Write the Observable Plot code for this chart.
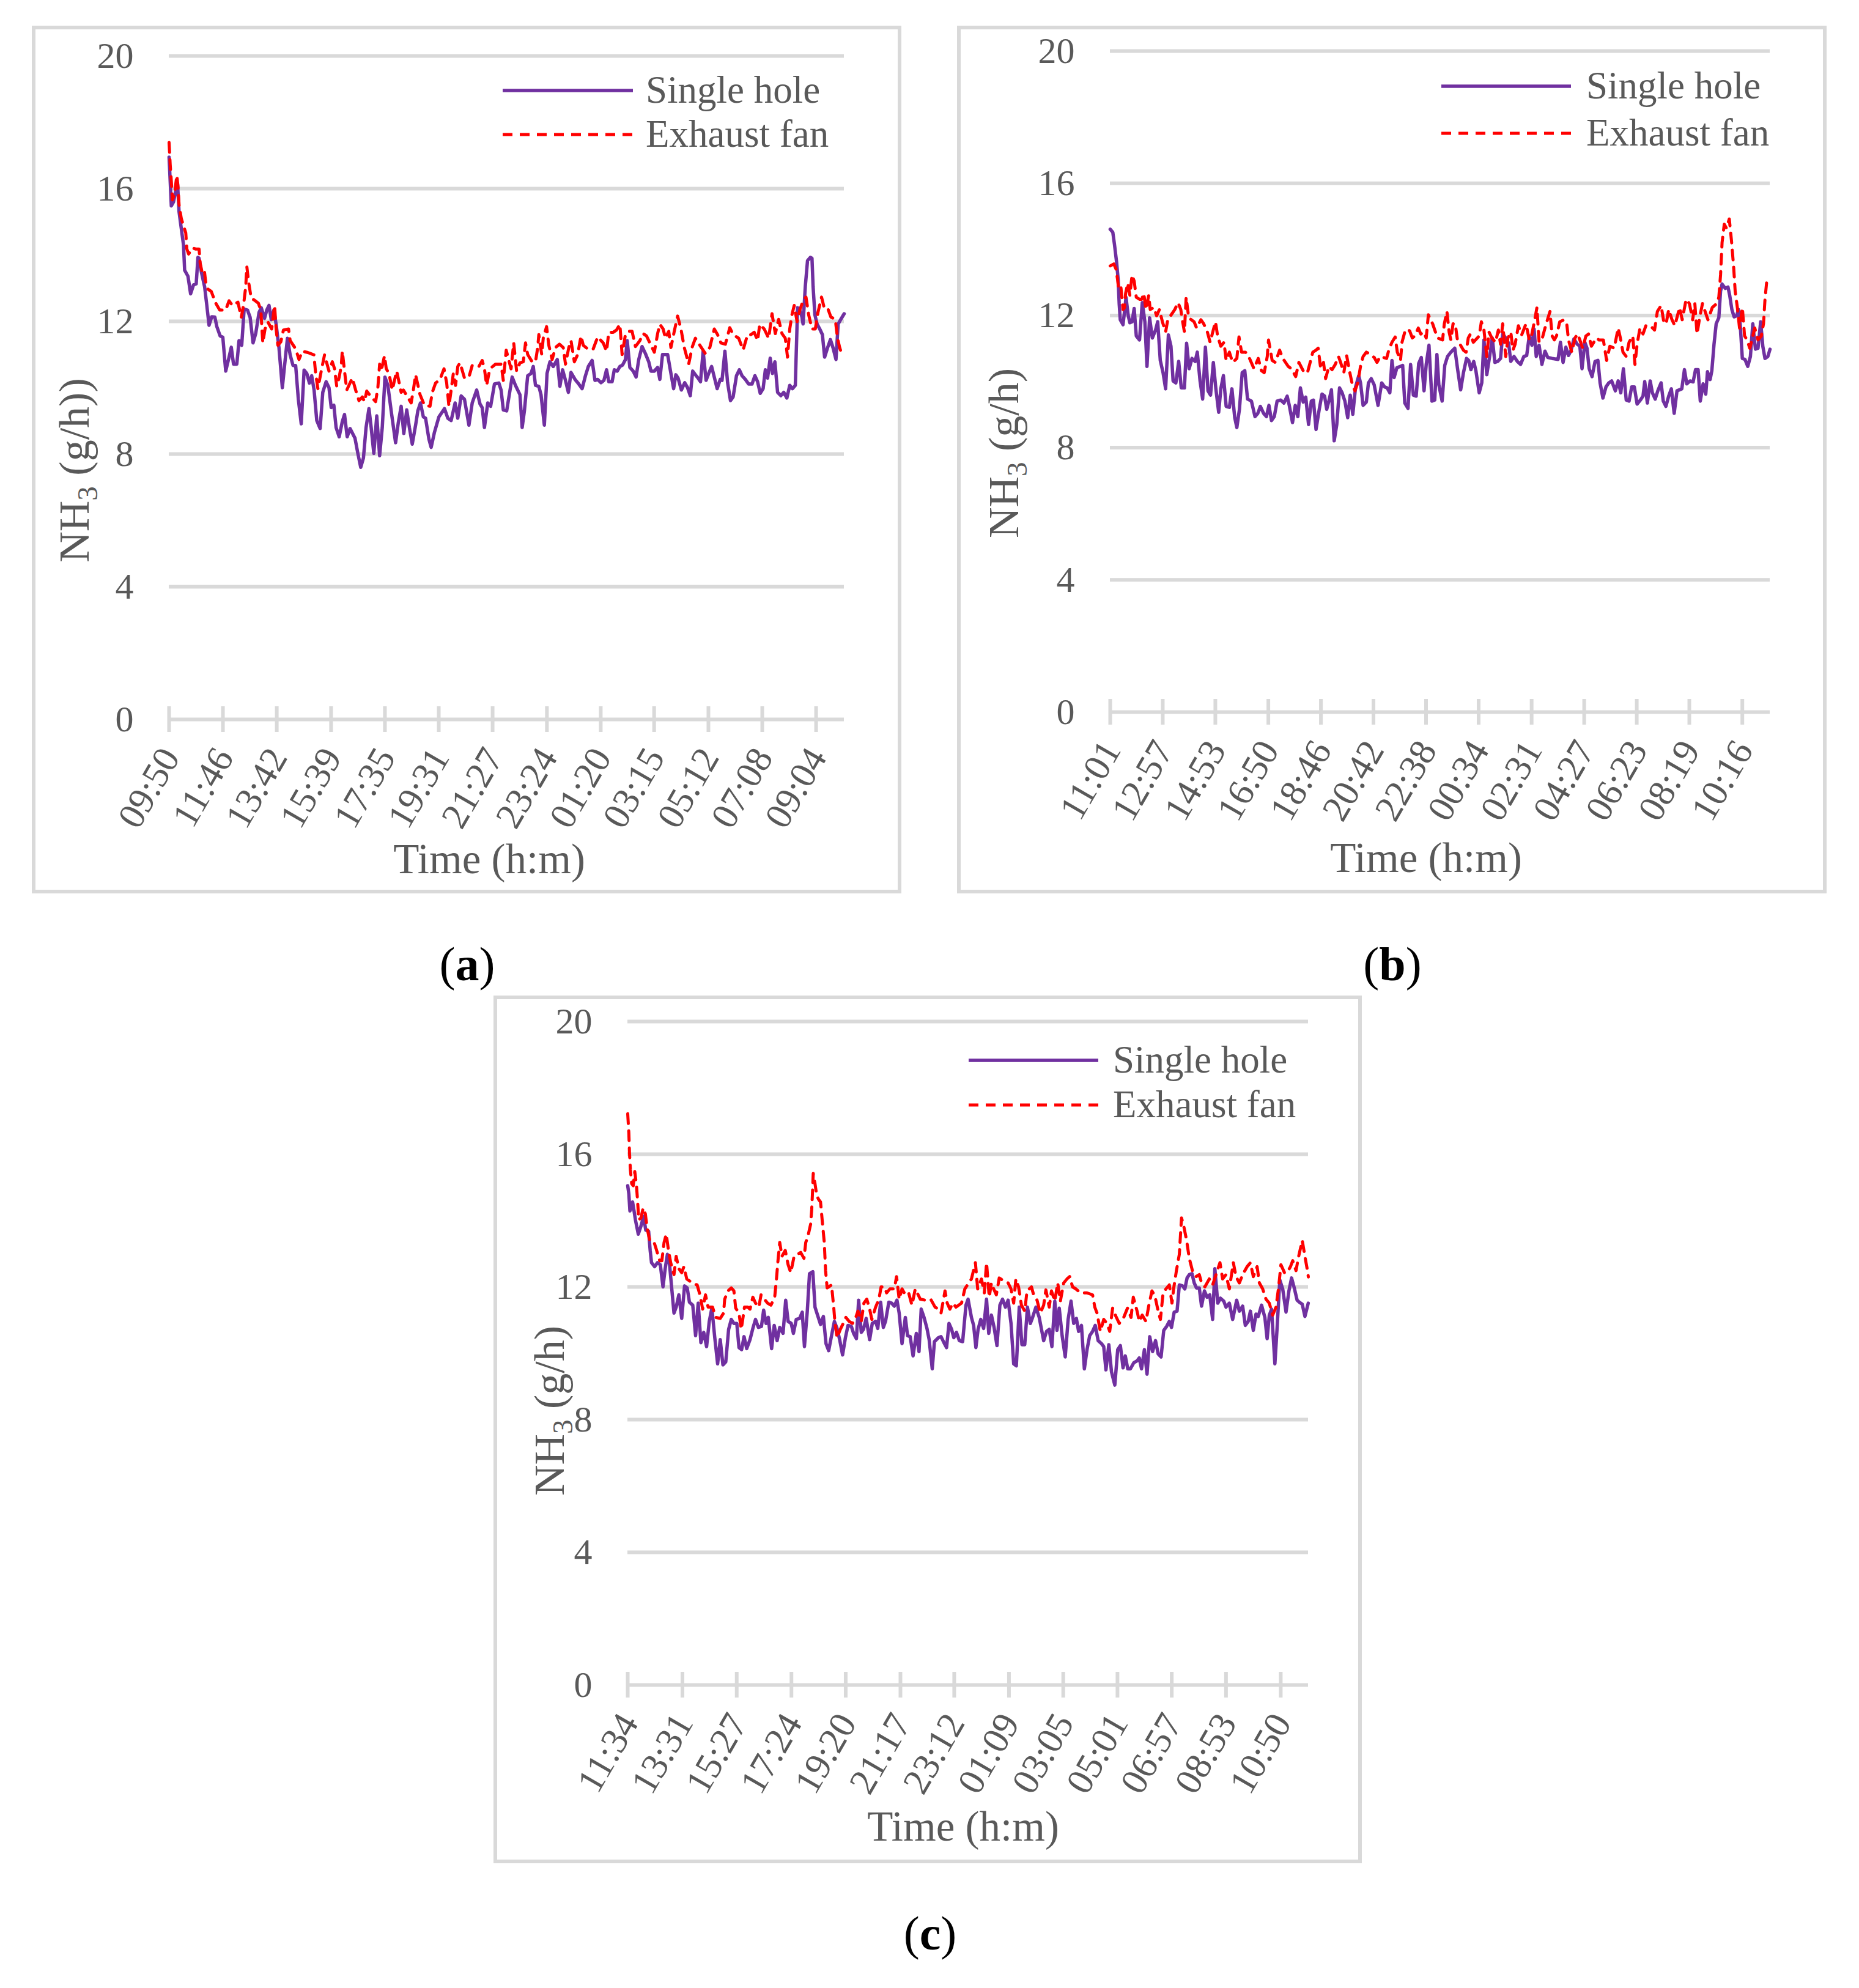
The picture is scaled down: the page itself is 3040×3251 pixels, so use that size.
<!DOCTYPE html>
<html><head><meta charset="utf-8">
<script src="https://cdn.jsdelivr.net/npm/d3@7"></script>
<script src="https://cdn.jsdelivr.net/npm/@observablehq/plot@0.6"></script>
<style>
html,body{margin:0;padding:0;background:#fff;}
#page{position:relative;width:3040px;height:3251px;background:#fff;font-family:"Liberation Serif",serif;overflow:hidden;}
.panel{position:absolute;}
.panel .border{position:absolute;left:0;top:0;right:0;bottom:0;border:6px solid #d9d9d9;box-sizing:border-box;}
#overlay{position:absolute;left:0;top:0;pointer-events:none;}
</style></head><body><div id="page"></div>
<script>
// ---------- data (minutes since first tick, NH3 g/h) ----------
const yTicks = [0, 4, 8, 12, 16, 20];
const aLabels = ["09:50","11:46","13:42","15:39","17:35","19:31","21:27","23:24","01:20","03:15","05:12","07:08","09:04"];
const bLabels = ["11:01","12:57","14:53","16:50","18:46","20:42","22:38","00:34","02:31","04:27","06:23","08:19","10:16"];
const cLabels = ["11:34","13:31","15:27","17:24","19:20","21:17","23:12","01:09","03:05","05:01","06:57","08:53","10:50"];
const seriesNames = ["Single hole", "Exhaust fan"];

const aSingle = [[0,16.95],[4.8,15.48],[9.6,15.6],[13.4,15.87],[18.2,16.16],[21.5,15.3],[26.3,14.8],[31.1,14.3],[33.5,13.54],[40.7,13.36],[46.4,12.83],[52.6,13.1],[58.4,13.13],[62.2,13.93],[64.6,13.9],[69.4,13.5],[76.6,13.04],[81.3,12.48],[86.1,11.88],[91.9,12.14],[98.6,12.13],[102.9,11.84],[110,11.56],[115.8,11.52],[122,10.5],[129.2,10.92],[134,11.22],[138.8,10.71],[145.9,10.71],[150.7,11.42],[156.5,11.28],[161.7,12.37],[168.9,12.34],[174.6,12.12],[180.9,11.35],[186.6,11.63],[193.8,12.27],[198.6,12.41],[205.7,12.09],[210.5,12.34],[215.3,12.48],[220.1,12.05],[225.8,12.34],[230.6,11.91],[236.8,11.2],[244,10.0],[251.2,10.99],[255,11.49],[260.8,10.99],[267,10.67],[272.7,10.67],[278.5,9.65],[284.7,8.91],[290.9,10.53],[296.7,10.43],[302.4,10.14],[307.2,10.36],[312.4,9.93],[318.2,9.01],[325.4,8.77],[331.1,9.86],[338.3,10.18],[344.5,10.0],[349.3,9.4],[355,9.47],[359.8,8.8],[366.5,8.52],[373.2,8.98],[378,9.19],[383.7,8.52],[389.9,8.77],[400.5,8.48],[406.7,8.02],[412.9,7.6],[418.7,7.88],[424.4,8.8],[430.6,9.37],[435.4,8.8],[441.1,8.02],[447.4,9.15],[453.6,7.95],[459.3,8.8],[465.1,10.32],[471.3,10.07],[478.5,9.3],[488,8.34],[493.8,8.94],[500,9.44],[505.7,8.62],[512,9.33],[517.7,8.8],[523.9,8.3],[531.1,8.87],[535.9,9.3],[541.6,9.54],[547.8,9.12],[552.6,9.08],[559.8,8.45],[564.6,8.2],[571.8,8.66],[581.3,9.12],[593.3,9.37],[600.5,9.08],[607.7,9.01],[616.3,9.54],[622,9.08],[629.2,9.75],[636.4,9.65],[646,8.87],[653.1,9.54],[662.7,9.93],[669.9,9.51],[674.6,9.4],[679.4,8.8],[686.6,9.54],[692.8,9.44],[701,10.11],[710.5,10.14],[715.3,9.93],[720.1,9.33],[727.3,9.3],[739.1,10.32],[746.3,10.07],[753.5,9.86],[755.9,9.79],[760.7,8.8],[765.5,9.3],[772.6,10.36],[779.8,10.43],[784.6,10.64],[789.4,10.07],[796.6,10.04],[801.3,9.79],[808.5,8.87],[814.3,10.43],[820.5,10.78],[827.7,10.64],[836.3,10.85],[842,10.04],[847.8,10.54],[854,10.22],[860.2,9.86],[865.9,10.46],[874.6,10.25],[882.7,10.11],[889.9,9.97],[897,10.36],[903.3,10.64],[911.4,10.82],[917.6,10.22],[923.4,10.25],[930.5,10.15],[936.8,10.22],[942.5,10.54],[947.3,10.18],[954.5,10.18],[959.2,10.54],[965.5,10.5],[971.2,10.64],[977,10.68],[983.2,10.85],[987,11.42],[992.7,10.61],[999.9,10.5],[1006.1,10.32],[1011.9,10.85],[1019,11.24],[1026.2,11.03],[1033.4,10.78],[1038.2,10.5],[1045.4,10.5],[1052.5,10.61],[1057.3,10.25],[1063.1,11.0],[1074.1,11.0],[1080.3,10.5],[1087,9.97],[1091.8,10.39],[1096.6,10.29],[1103.7,9.93],[1110.9,10.15],[1117.1,10.0],[1122.9,9.76],[1128.1,10.5],[1133.9,10.39],[1139.6,10.29],[1144.9,10.18],[1150.6,11.1],[1156.9,10.22],[1162.6,10.43],[1168.8,10.64],[1174.6,10.32],[1180.8,9.97],[1187.5,10.25],[1191.3,10.22],[1197.5,11.1],[1203.3,10.15],[1209.5,9.61],[1215.2,9.72],[1222.4,10.36],[1228.6,10.54],[1234.4,10.36],[1241.5,10.25],[1248.7,10.11],[1255.9,10.11],[1262.1,10.36],[1267.9,10.18],[1273.6,9.83],[1279.8,9.97],[1284.6,10.54],[1289.4,10.29],[1295.1,10.89],[1299.9,10.43],[1305.2,10.78],[1311,9.86],[1318.1,9.76],[1324.3,9.86],[1331,9.69],[1337.2,10.07],[1343,9.97],[1349.2,10.07],[1354,12.41],[1358.8,12.34],[1363.5,12.13],[1365.9,11.92],[1370.7,13.05],[1375.5,13.83],[1381.7,13.93],[1385.1,13.9],[1387.5,13.05],[1391.3,12.2],[1396.1,11.92],[1401.8,11.77],[1407.6,11.6],[1412.3,10.92],[1418.6,11.2],[1424.8,11.45],[1430.5,11.2],[1436.8,10.85],[1441.5,11.92],[1447.3,12.06],[1454.5,12.23]];

const aFan = [[0,17.39],[2.4,16.72],[4.8,16.23],[7.2,15.66],[12,15.87],[16.7,16.4],[19.1,16.08],[21.5,15.52],[26.3,15.1],[31.1,14.88],[35.9,14.67],[38.3,14.18],[42.1,14.03],[50.2,14.21],[57.4,14.18],[64.6,14.18],[67,13.75],[70.8,13.5],[75.6,13.57],[78.9,13.19],[83.7,12.97],[90.9,12.9],[100.5,12.55],[109.1,12.34],[122,12.34],[129.2,12.62],[136.4,12.48],[148.3,12.58],[155.5,12.12],[160.3,12.48],[165.1,13.04],[167.5,13.65],[171.3,13.19],[177,12.69],[182.8,12.65],[192.3,12.55],[197.6,12.34],[201.9,11.35],[206.7,11.77],[212.9,11.98],[221.1,11.77],[227.3,12.48],[230.6,11.77],[234.4,11.28],[240.7,11.38],[246.4,11.74],[257.4,11.77],[260.8,11.42],[272.7,11.17],[279.9,10.85],[287.1,11.1],[299,11.06],[312,10.99],[315.8,10.43],[320.6,9.97],[327.8,10.5],[334.9,10.99],[344.5,10.5],[351.7,10.78],[356.5,10.57],[361.2,10.04],[366,10.29],[370.8,10.64],[373.2,11.1],[378,10.5],[382.8,9.93],[394.7,10.29],[401.9,9.93],[409.1,9.61],[416.3,9.72],[421.1,9.58],[425.8,9.9],[435.4,9.72],[445,9.58],[449.8,10.0],[453.6,10.71],[456.9,10.5],[464.1,10.96],[467.9,10.57],[473.7,10.43],[480.9,9.93],[485.6,10.22],[490.4,10.5],[500,9.86],[504.8,9.93],[521.5,9.54],[526.3,9.93],[531.1,10.39],[540.7,9.79],[550.2,9.47],[562.2,9.44],[567,9.86],[574.2,10.14],[583.7,10.25],[592.3,10.57],[598.1,10.14],[602.9,9.44],[607.7,9.93],[612.4,10.43],[617.2,10.07],[622,10.64],[626.8,10.75],[636.4,10.29],[646,10.32],[653.1,10.67],[660.3,10.64],[667.5,10.64],[674.6,10.82],[679.4,10.57],[684.2,10.07],[689,10.43],[693.8,10.6],[703.3,10.71],[715.3,10.71],[720.1,10.22],[726.3,11.13],[736.8,10.57],[742.5,11.35],[748.7,10.5],[755.9,10.75],[763.1,10.78],[767.9,11.35],[772.6,11.0],[782.2,10.78],[789.4,10.78],[794.2,11.21],[796.6,11.6],[802.8,11.0],[806.1,11.49],[813.3,11.84],[818.1,11.28],[825.3,10.85],[832.4,11.21],[841,11.31],[849.2,11.21],[854,10.71],[861.2,11.21],[865.9,11.42],[873.1,10.78],[880.3,11.0],[887.5,11.56],[892.3,11.28],[904.2,11.14],[913.8,11.17],[923.4,11.53],[935.3,11.35],[942.5,11.1],[947.3,11.67],[956.9,11.67],[964.1,11.74],[971.2,11.91],[976,11.0],[983.2,11.6],[990.3,11.7],[997.5,11.7],[1004.7,11.24],[1014.3,11.42],[1021.4,11.63],[1028.6,11.56],[1035.8,11.35],[1045.4,11.07],[1052.5,11.63],[1057.3,11.91],[1064.5,11.77],[1069.3,11.49],[1076.5,11.7],[1081.2,11.21],[1088.4,11.7],[1095.6,12.16],[1102.8,11.77],[1110,11.21],[1119.5,10.71],[1126.7,11.21],[1133.9,11.49],[1143.5,11.28],[1155.4,11.03],[1165,11.21],[1174.6,11.77],[1181.7,11.6],[1188.9,11.35],[1198.5,11.31],[1208,11.81],[1215.2,11.6],[1227.2,11.49],[1236.8,11.14],[1246.3,11.6],[1253.5,11.6],[1260.7,11.67],[1267.9,11.42],[1272.6,11.91],[1282.2,11.77],[1291.8,11.49],[1299,12.23],[1306.1,11.63],[1313.3,12.06],[1320.5,11.63],[1327.6,11.49],[1332.4,10.92],[1337.2,11.77],[1342,12.2],[1346.8,12.48],[1353,11.99],[1358.8,12.34],[1365.9,12.62],[1372.2,12.73],[1377.9,12.2],[1385.1,11.77],[1392.3,11.77],[1398,12.27],[1405.7,12.73],[1411.4,12.41],[1418.6,12.41],[1425.8,12.13],[1435.3,12.06],[1440.1,11.49],[1444.9,11.2],[1449.7,11.0],[1454,10.95]];

const bSingle = [[0,14.61],[5.7,14.52],[9.4,14.15],[14.2,13.6],[17.5,13.1],[19.8,12.36],[22.2,11.87],[28.3,11.72],[31.6,12.12],[34.9,12.55],[39.7,12.0],[43.4,11.78],[48.2,11.81],[52.9,12.21],[57.6,11.38],[64.7,11.26],[70.8,12.39],[76.5,11.81],[81.2,10.46],[86.9,11.93],[93,11.32],[100.1,11.56],[104.8,11.81],[110.5,10.64],[116.6,10.27],[122.3,9.78],[128.4,11.41],[134.1,11.07],[138.8,10.02],[144.9,9.96],[151.1,10.61],[156.8,9.81],[163.8,9.81],[168.6,11.16],[174.2,10.39],[180.4,10.7],[187.4,10.61],[192.2,10.89],[198.3,10.02],[204,9.47],[210.1,11.04],[215.8,9.72],[221.4,9.59],[227.6,10.58],[233.2,9.78],[239.4,9.07],[244.1,9.78],[249.8,10.18],[255.9,9.25],[263,9.22],[268.6,9.78],[274.8,8.91],[279.5,8.61],[285.2,9.16],[291.3,10.27],[297,10.33],[303.1,9.47],[311.6,9.41],[319.6,8.94],[325.8,9.04],[331.4,9.25],[338.5,9.04],[344.7,8.94],[350.3,9.28],[356,8.82],[362.1,8.94],[368.3,9.41],[376.3,9.44],[383.4,9.35],[390.5,9.56],[395.2,9.28],[402.3,8.76],[408.4,9.28],[414.1,8.94],[419.7,9.81],[425.9,9.38],[431.5,9.53],[437.7,8.7],[443.8,9.41],[448.5,9.44],[454.2,8.55],[461.3,9.16],[467.4,9.62],[473.1,9.56],[477.8,9.16],[482.5,9.41],[488.2,9.75],[494.3,8.21],[500,8.7],[506.1,9.81],[511.8,9.66],[517.9,9.41],[524.1,8.91],[529.7,9.59],[535.4,9.01],[541.5,9.84],[548.6,10.18],[552.4,9.96],[558.1,9.28],[565.2,9.38],[569.9,9.96],[576,10.09],[582.6,9.9],[591.1,9.28],[599.2,9.96],[605.3,9.84],[611,9.81],[617.1,9.66],[621.8,10.64],[626.5,10.12],[632.7,10.42],[640.7,10.46],[645.4,10.49],[650.1,9.35],[657.2,9.19],[662.9,10.52],[669,9.59],[675.2,9.56],[680.8,10.55],[686.5,10.73],[692.6,9.72],[697.4,10.52],[703.5,11.1],[710.1,9.41],[716.2,9.44],[721,10.82],[725.3,9.9],[732.5,9.41],[738.3,10.49],[744.5,10.76],[751.8,10.89],[760.4,11.01],[767.1,10.33],[773.4,9.75],[779.6,10.27],[786.4,10.7],[791.2,10.64],[796,10.36],[802.2,10.61],[807,10.33],[814.3,9.66],[820,9.96],[824.8,11.26],[831.1,10.21],[837.3,10.76],[843.1,11.32],[848.9,10.58],[855.1,10.61],[861.4,10.7],[866.2,11.44],[872.9,11.32],[879.2,11.16],[884,10.61],[891.2,10.76],[898.4,10.61],[905.6,10.52],[912.8,10.76],[919.1,10.79],[924.8,11.38],[930.6,11.1],[935.4,11.59],[940.2,10.76],[946.5,11.1],[952.7,10.52],[959.5,10.92],[965.7,10.73],[975.3,10.7],[988.3,10.67],[993.6,11.19],[999.4,10.58],[1005.6,11.04],[1011.4,10.79],[1017.2,10.95],[1023.4,11.29],[1030.6,11.13],[1036.4,11.07],[1041.2,10.39],[1047.4,11.19],[1052.2,11.01],[1057,10.39],[1063.3,10.15],[1070,10.61],[1076.3,10.64],[1081.1,9.96],[1087.3,9.5],[1094.1,9.84],[1100.3,9.96],[1106.6,10.02],[1114.7,9.72],[1121,10.02],[1126.8,9.66],[1132.5,10.39],[1138.8,9.44],[1145,9.41],[1150.8,9.84],[1156.6,9.84],[1162.8,9.32],[1170,9.44],[1175.8,9.56],[1179.6,10.0],[1185.4,9.35],[1191.7,10.02],[1196.5,9.66],[1202.7,9.47],[1208.5,9.72],[1215.7,9.96],[1220.5,9.41],[1226.3,9.25],[1232.5,9.56],[1238.3,9.78],[1244.6,9.04],[1250.8,9.72],[1261.4,9.78],[1267.2,10.36],[1272.4,9.93],[1279.7,10.02],[1286.4,9.99],[1291.7,10.36],[1297.4,10.36],[1302.2,9.41],[1308.5,9.93],[1314.3,9.62],[1318.1,10.3],[1323.9,10.06],[1327.7,10.33],[1332.5,11.13],[1337.3,11.75],[1343.1,11.93],[1346.9,12.73],[1350.3,12.95],[1357.5,12.82],[1363.3,12.86],[1367.1,12.61],[1371.9,12.18],[1376.8,11.96],[1382.5,11.99],[1386.4,12.18],[1390.2,11.75],[1395,10.7],[1400.8,10.67],[1407,10.46],[1412.8,10.76],[1418.1,11.75],[1423.9,10.98],[1429.6,11.01],[1435.4,11.81],[1440.2,11.07],[1445,10.7],[1451.3,10.76],[1456.1,10.98]];

const bFan = [[0,13.5],[8,13.56],[12.7,13.41],[16.1,13.1],[18.9,12.79],[23.6,12.86],[28.3,12.18],[31.6,12.24],[34,12.67],[38.7,12.98],[43.4,12.61],[48.2,13.22],[52.9,13.04],[57.6,12.55],[64.7,12.49],[69.4,12.49],[74.1,12.67],[78.8,12.18],[85,12.61],[88.3,12.18],[96.3,12.24],[102.5,11.99],[108.6,12.18],[115.2,11.81],[122.3,11.5],[127,11.87],[133.1,11.99],[142.6,12.18],[149.7,12.39],[155.8,12.18],[159.1,11.87],[163.8,11.5],[167.6,12.55],[173.3,11.93],[185.1,11.81],[190.7,11.62],[200.2,11.87],[206.3,11.75],[214.4,11.5],[220.5,11.19],[225.2,11.44],[232.3,11.81],[237,11.38],[244.1,11.07],[251.2,11.19],[255.9,10.64],[263,10.89],[270.1,10.58],[279.5,10.7],[284.2,11.35],[289.9,10.89],[298.4,10.89],[305.5,10.76],[317.3,10.39],[326.7,10.7],[333.8,10.33],[339.9,10.27],[346.6,10.76],[349.4,11.26],[352.7,11.01],[357.4,10.64],[364.5,10.58],[373.9,10.95],[381,10.7],[392.8,10.46],[399.9,10.39],[409.3,10.15],[416.4,10.58],[423.5,10.39],[428.2,10.27],[435.3,10.27],[442.4,10.64],[447.1,10.89],[454.2,10.95],[458.9,11.01],[464.6,10.39],[470.7,10.58],[475.4,10.09],[482.5,10.46],[489.6,10.36],[496.7,10.52],[503.8,10.76],[508.5,10.58],[515.6,10.27],[521.7,10.79],[528.8,10.27],[534.5,9.9],[540.1,9.72],[546.3,9.96],[552.4,10.46],[558.1,10.76],[565.2,10.89],[574.6,10.82],[582.6,10.73],[588.8,10.58],[595.8,10.76],[610,10.7],[614.7,10.95],[621.8,11.19],[628.9,11.35],[633.6,10.89],[640.7,10.64],[644,11.19],[650.1,11.5],[654.9,11.59],[661,11.53],[666.7,11.32],[672.3,11.38],[679.9,11.62],[685.5,11.44],[691.7,11.5],[697.4,11.32],[702.1,12.02],[706.8,11.87],[711.5,11.75],[717.7,11.5],[722.4,11.32],[733.5,11.26],[737.3,11.75],[743.1,12.12],[747.9,11.5],[751.8,11.26],[756.6,11.75],[761.4,11.75],[766.2,11.26],[779.6,10.95],[785.4,10.89],[790.2,11.32],[795,11.44],[801.3,11.19],[814.3,11.38],[819.1,11.81],[824.8,11.56],[831.1,10.76],[835.9,11.5],[842.1,11.32],[850.3,11.19],[856.6,11.56],[861.4,11.13],[866.2,11.75],[872.9,10.76],[877.7,11.32],[884,11.5],[888.8,10.95],[893.6,11.13],[900.8,11.69],[908,11.41],[917.6,11.75],[924.8,11.26],[929.6,11.38],[936.9,11.87],[941.7,12.24],[946.5,11.19],[953.7,11.32],[960.9,11.69],[970.5,12.12],[975.3,11.38],[980.1,11.26],[984.9,11.38],[992.1,11.81],[1001.8,11.87],[1007.5,11.75],[1011.4,11.26],[1018.6,10.89],[1025.8,11.32],[1031.6,11.44],[1036.4,11.26],[1042.6,11.01],[1049.8,11.38],[1055.6,11.44],[1061.9,11.07],[1072.9,11.32],[1078.7,11.26],[1088.3,11.26],[1095.5,10.64],[1102.7,11.07],[1112.3,11.01],[1121,11.62],[1125.8,11.32],[1131.6,10.89],[1138.8,10.76],[1145,11.19],[1153.2,11.38],[1158,10.52],[1162.8,11.13],[1169.1,11.62],[1175.8,11.44],[1182.1,11.69],[1191.7,11.69],[1201.3,11.56],[1207.5,12.12],[1215.7,12.3],[1222,11.78],[1226.8,11.75],[1232.5,12.18],[1239.8,11.87],[1246,11.69],[1251.8,11.99],[1256.6,12.24],[1262.3,11.87],[1271,12.49],[1278.2,12.36],[1285.4,11.87],[1290.2,12.36],[1295,11.44],[1300.8,11.93],[1307,12.36],[1314.3,12.06],[1319.1,11.87],[1328.7,12.24],[1338.3,12.36],[1343.1,12.55],[1346.9,13.22],[1350.3,14.21],[1355.1,14.76],[1359.9,14.64],[1366.2,14.92],[1371,14.27],[1375.8,13.47],[1379.2,12.73],[1384,12.24],[1388.8,11.62],[1395,12.24],[1399.9,11.38],[1405.6,11.26],[1411.4,11.01],[1416.2,11.26],[1422.4,11.62],[1429.6,11.26],[1436.9,11.38],[1441.7,11.75],[1445,12.49],[1448.9,13.04],[1455,13.0]];

const cSingle = [[0,15.05],[2.4,14.81],[4.7,14.29],[7.1,14.38],[10.4,14.56],[13.2,14.32],[16.5,14.02],[22.6,13.59],[28.3,13.83],[33.9,14.13],[38.6,13.71],[44.7,13.68],[48,13.1],[50.9,12.73],[57.5,12.61],[63.6,12.73],[69.7,12.67],[75.4,12.0],[80.1,12.55],[84.8,12.98],[89.5,12.67],[94.2,11.94],[98.9,11.21],[103.6,11.39],[109.3,11.76],[115.4,11.05],[121.5,12.03],[127.2,11.97],[131.9,11.54],[139,11.45],[145.1,10.53],[150.7,11.51],[156.4,10.32],[162.5,10.63],[168.6,10.2],[174.3,10.96],[179.9,11.36],[186.1,10.47],[192.2,9.68],[197.8,10.41],[203.5,9.65],[209.6,9.74],[215.7,10.72],[221.4,11.02],[227,10.9],[233.2,10.9],[237.9,10.17],[243.5,10.11],[248.7,10.5],[254.4,10.14],[261.4,10.41],[267.5,10.75],[273.2,11.02],[279.3,10.78],[285.9,10.81],[290.6,11.3],[295.8,10.9],[300.5,11.08],[307.6,10.14],[313.2,10.84],[319.4,10.38],[325,10.78],[332.1,10.6],[337.7,11.6],[342.9,10.96],[349.5,10.9],[354.2,10.6],[360.3,11.02],[367.4,11.05],[373.1,11.24],[377.8,10.2],[383.9,11.27],[388.6,12.4],[395.7,12.46],[400.4,11.39],[407.4,11.08],[412.2,10.87],[418.3,11.11],[423.9,10.29],[429.6,10.08],[435.7,10.53],[441.8,10.96],[447.5,10.75],[453.1,10.41],[459.3,9.95],[465.4,10.47],[471,10.84],[478.1,10.81],[482.8,10.6],[488.9,10.44],[493.6,11.6],[499.3,10.63],[504,10.72],[509.7,11.05],[517.2,10.41],[522.8,10.9],[529.9,10.96],[534.6,10.75],[540.7,11.54],[546.4,10.78],[551.1,10.96],[558.2,11.54],[564.3,11.51],[569.9,11.42],[575.6,11.6],[580.3,11.21],[586.4,10.29],[593.5,11.08],[598.2,10.53],[603.9,10.5],[610,9.92],[617,10.6],[622.7,10.05],[627.4,11.33],[633.5,11.08],[639.7,10.75],[644.4,10.41],[651,9.53],[655.7,10.35],[664.2,10.47],[669.8,10.5],[676,10.32],[681.6,10.17],[686.8,10.9],[692.4,10.72],[697.1,10.47],[702.8,10.63],[708.9,10.38],[716,10.35],[723.1,11.45],[727.6,11.63],[734.8,11.08],[739.5,10.84],[744.3,10.17],[749,10.72],[754.7,11.02],[760.9,10.75],[767.1,11.63],[771.8,10.6],[777.5,11.15],[783.2,10.78],[789.4,10.23],[795.6,11.45],[801.3,11.63],[807.5,11.39],[813.2,11.6],[819.4,10.9],[825.1,9.68],[830.8,9.62],[837,11.39],[842.7,10.26],[848.8,10.26],[854.5,11.39],[860.7,10.9],[865.5,11.08],[872.6,11.39],[879.7,11.08],[889.2,10.38],[895.4,10.66],[901.1,10.72],[906.8,10.2],[913,11.57],[917.7,10.69],[922.5,11.36],[928.7,10.53],[935.3,9.89],[941.5,11.02],[947.7,11.57],[953.4,10.9],[959.1,11.05],[963.9,10.66],[970,10.84],[976.2,9.53],[981.9,10.11],[987.6,10.53],[993.8,10.66],[999.5,10.84],[1005.7,10.38],[1012.8,10.29],[1017.6,10.2],[1022.3,9.5],[1028.5,10.26],[1034.2,9.44],[1041.3,9.04],[1047.5,10.11],[1053.2,10.23],[1058.9,9.56],[1063.7,9.92],[1068.9,9.53],[1074.6,9.53],[1081.7,9.71],[1088.9,9.77],[1093.6,9.86],[1098.4,9.53],[1104.5,10.11],[1110.2,9.37],[1115.9,10.5],[1122.1,10.05],[1128.3,10.38],[1134,9.98],[1140.2,9.89],[1145.9,10.69],[1152.1,10.81],[1157.8,10.96],[1162.5,10.78],[1168.2,11.24],[1174.4,11.27],[1179.2,12.06],[1186.3,12.03],[1191,11.94],[1195.8,12.27],[1200.5,12.37],[1206.3,12.4],[1211,12.12],[1215.8,11.97],[1221.9,11.97],[1226.7,11.42],[1232.9,11.88],[1238.6,11.69],[1244.3,11.76],[1250.4,11.02],[1255.2,12.55],[1261.4,11.51],[1267.1,11.66],[1274.2,11.57],[1279,11.39],[1286.1,11.51],[1293.2,11.02],[1301.8,11.6],[1307.5,11.27],[1314.6,11.42],[1320.3,10.84],[1326.5,10.96],[1331.2,11.27],[1337.4,10.69],[1343.1,11.18],[1347.9,11.11],[1355,11.45],[1362.1,11.08],[1366.9,10.44],[1371.6,11.15],[1376.4,11.33],[1383.5,9.68],[1388.3,10.78],[1394,12.21],[1400.2,11.94],[1407.3,11.24],[1413.5,11.88],[1419.2,12.27],[1424.9,11.97],[1431,11.6],[1435.8,11.54],[1442,11.48],[1447.7,11.11],[1454.8,11.51]];

const cFan = [[0,17.22],[2.4,16.64],[3.8,16.03],[5.7,15.54],[8.5,15.11],[11.8,15.05],[15.1,15.48],[18.8,15.05],[21.2,14.56],[23.6,14.02],[28.3,14.08],[33,14.38],[37.7,14.2],[41.5,13.77],[47.1,13.4],[52.8,13.34],[56.5,13.34],[61.2,13.13],[68.3,12.79],[73,12.79],[77.7,13.34],[82.4,13.59],[87.1,13.1],[91.9,12.73],[98.9,12.37],[103.6,12.92],[109.3,12.55],[115.4,12.43],[120.1,12.61],[126.2,12.24],[141.3,12.09],[148.4,12.06],[154.5,11.76],[160.2,11.33],[166.3,11.76],[171.9,11.39],[181.3,11.39],[188.4,11.08],[197.8,11.05],[204.9,11.21],[207.3,11.63],[214.3,11.88],[221.4,11.97],[227,11.88],[230.8,11.36],[237.9,11.21],[242.6,10.72],[245.9,11.02],[249.6,11.39],[256.7,11.39],[261.4,11.33],[267.5,11.69],[273.2,11.51],[280.3,11.39],[285,11.76],[292,11.63],[299.1,11.51],[306.2,11.45],[314.2,11.69],[318,12.24],[321.2,12.79],[325,13.34],[329.7,12.92],[336.8,13.1],[342.9,12.67],[348.6,12.43],[355.6,12.92],[362.7,12.98],[369.8,13.04],[376.8,12.86],[380.6,13.34],[385.3,13.53],[391,13.89],[393.3,14.32],[394.7,14.75],[396.6,15.42],[400.4,15.11],[404.1,14.75],[408.4,14.63],[412.2,14.56],[416.9,13.83],[420.2,13.34],[423,12.49],[426.3,11.97],[435.7,12.06],[440.4,11.39],[442.8,10.96],[447.5,10.47],[454.5,10.72],[460.7,10.9],[466.3,11.08],[473.4,10.96],[480.5,10.9],[487.5,11.08],[492.2,11.27],[499.3,10.96],[504.9,11.51],[511.1,11.63],[517.2,11.33],[521.9,11.02],[529.9,11.39],[537,11.63],[541.7,12.0],[548.7,12.0],[553.5,11.82],[560.5,11.94],[570,11.94],[574.7,12.31],[580.3,11.63],[586.4,11.94],[593.5,11.76],[600.6,11.82],[607.6,11.45],[614.7,11.94],[625.5,11.63],[635.9,11.6],[647.7,11.63],[657.1,11.39],[664.2,11.33],[669.8,11.21],[678.3,11.88],[683,11.51],[688.7,11.33],[694.8,11.51],[701.8,11.39],[713.6,11.51],[720.7,11.94],[734.8,12.24],[743.3,12.73],[748.1,11.94],[756.2,12.24],[762.3,11.82],[767.1,12.73],[772.8,11.69],[777.5,12.12],[782.3,11.94],[788,11.76],[794.2,12.27],[803.7,12.18],[813.2,12.12],[819.4,11.94],[825.1,11.51],[829.8,12.24],[835.5,12.0],[841.7,11.45],[848.8,11.27],[853.6,11.88],[863.1,12.0],[867.8,11.76],[875,11.6],[882.1,11.21],[889.2,11.45],[894,11.91],[901.1,11.39],[905.9,11.88],[913,11.57],[919.2,12.12],[924.9,11.57],[932,12.12],[939.1,12.24],[944.8,12.31],[951,12.0],[958.1,11.94],[967.7,11.82],[981.9,11.82],[993.8,11.76],[998.5,11.39],[1003.3,11.21],[1010.4,10.66],[1017.6,11.02],[1024.7,10.9],[1030.4,10.66],[1036.6,11.36],[1043.7,11.11],[1050.8,10.9],[1060.3,11.08],[1068.4,11.36],[1076,11.08],[1080.8,11.69],[1088.9,11.27],[1093.6,10.96],[1099.8,11.15],[1107.9,10.96],[1114.1,11.45],[1120.7,11.88],[1126.9,11.73],[1134,11.27],[1138.8,11.02],[1144.5,11.82],[1150.6,11.94],[1157.8,12.06],[1163.5,11.51],[1167.3,11.97],[1173,12.49],[1179.2,12.98],[1183.9,14.08],[1188.7,13.83],[1194.8,13.4],[1200.5,12.86],[1207.7,12.46],[1214.8,12.31],[1221.9,12.37],[1226.7,12.12],[1233.8,12.0],[1243.3,12.24],[1250.4,12.06],[1257.6,12.37],[1266.1,12.73],[1271.8,12.24],[1279,12.37],[1286.1,11.94],[1294.7,12.73],[1300.4,12.31],[1307.5,12.12],[1314.6,12.37],[1324.1,12.61],[1331.2,12.73],[1337.4,12.31],[1345.5,12.61],[1350.3,12.12],[1357.4,11.94],[1364.5,11.63],[1371.6,11.51],[1378.8,11.15],[1385.9,11.39],[1391.6,12.0],[1396.4,12.67],[1404,12.43],[1409.7,12.43],[1416.8,12.61],[1421.6,12.79],[1428.7,12.49],[1433.4,12.86],[1437.2,13.1],[1442,13.4],[1447.7,12.92],[1452.4,12.55],[1455,12.3]];

// ---------- style ----------
const GRID = "#d9d9d9", TEXT = "#595959", PURPLE = "#7030A0", RED = "#FF0000";
const FONT = "Liberation Serif";

const panels = [
  {letter:"a", box:[52,42,1422,1419], m:{top:49,right:94,bottom:285,left:224}, labels:aLabels, single:aSingle, fan:aFan,
   yTitle:{x:145,y:769,tail:" (g/h))"}, xTitle:{x:800,y:1428}, legend:{x1:822,x2:1035,y1:148,y2:220,tx:1056}, caption:{x:764,y:1603}},
  {letter:"b", box:[1565,42,1422,1419], m:{top:41,right:93,bottom:297,left:250}, labels:bLabels, single:bSingle, fan:bFan,
   yTitle:{x:1665,y:741,tail:" (g/h)"}, xTitle:{x:2332,y:1426}, legend:{x1:2357,x2:2569,y1:141,y2:218,tx:2594}, caption:{x:2277,y:1603}},
  {letter:"c", box:[807,1628,1420,1419], m:{top:42,right:88,bottom:292,left:219}, labels:cLabels, single:cSingle, fan:cFan,
   yTitle:{x:922,y:2307,tail:" (g/h)"}, xTitle:{x:1575,y:3010}, legend:{x1:1584,x2:1796,y1:1734,y2:1807,tx:1820}, caption:{x:1521,y:3188}}
];

function toMin(s){ const [h,m] = s.split(":").map(Number); return h*60+m; }

const page = document.getElementById("page");
let overlay = "";

for (const p of panels) {
  const [bx, by, bw, bh] = p.box;
  const m0 = toMin(p.labels[0]);
  const tickTimes = p.labels.map(s => ((toMin(s) - m0) % 1440 + 1440) % 1440);
  const xEnd = d3.max([...p.single, ...p.fan], d => d[0]);
  const plotH = bh - p.m.top - p.m.bottom;

  const chart = Plot.plot({
    width: bw, height: bh,
    marginTop: p.m.top, marginRight: p.m.right, marginBottom: p.m.bottom, marginLeft: p.m.left,
    x: {domain: [0, xEnd], axis: null},
    y: {domain: [0, 20], axis: null},
    style: {fontFamily: FONT, fontSize: "60px", color: TEXT, background: "transparent", overflow: "visible"},
    marks: [
      Plot.ruleY(yTicks, {y: d => d, stroke: GRID, strokeWidth: 6}),
      Plot.ruleX(tickTimes, {x: d => d, stroke: GRID, strokeWidth: 6, insetTop: plotH - 21, insetBottom: -21}),
      Plot.text(yTicks, {y: d => d, text: d => String(d), frameAnchor: "left", textAnchor: "end", dx: -58, fontSize: 60, fill: TEXT}),
      Plot.text(tickTimes, {x: d => d, text: (d, i) => p.labels[i], frameAnchor: "bottom", rotate: -60, textAnchor: "end", lineAnchor: "middle", dx: 2, dy: 52, fontSize: 61, fill: TEXT}),
      Plot.line(p.single, {x: d => d[0], y: d => d[1], stroke: PURPLE, strokeWidth: 5.5}),
      Plot.line(p.fan, {x: d => d[0], y: d => d[1], stroke: RED, strokeWidth: 5, strokeDasharray: "16,12"})
    ]
  });

  const wrap = document.createElement("div");
  wrap.className = "panel";
  wrap.style.left = bx + "px"; wrap.style.top = by + "px";
  wrap.style.width = bw + "px"; wrap.style.height = bh + "px";
  const border = document.createElement("div");
  border.className = "border";
  wrap.appendChild(border);
  chart.style.position = "absolute"; chart.style.left = "0px"; chart.style.top = "0px";
  wrap.appendChild(chart);
  page.appendChild(wrap);

  // legend
  const L = p.legend;
  overlay += `<line x1="${L.x1}" x2="${L.x2}" y1="${L.y1}" y2="${L.y1}" stroke="${PURPLE}" stroke-width="5.5"/>`;
  overlay += `<line x1="${L.x1}" x2="${L.x2}" y1="${L.y2}" y2="${L.y2}" stroke="${RED}" stroke-width="5" stroke-dasharray="16,12"/>`;
  overlay += `<text x="${L.tx}" y="${L.y1 + 20}" font-size="63" fill="${TEXT}">${seriesNames[0]}</text>`;
  overlay += `<text x="${L.tx}" y="${L.y2 + 20}" font-size="63" fill="${TEXT}">${seriesNames[1]}</text>`;
  // axis titles
  overlay += `<text x="${p.xTitle.x}" y="${p.xTitle.y}" font-size="69" fill="${TEXT}" text-anchor="middle">Time (h:m)</text>`;
  overlay += `<text transform="translate(${p.yTitle.x},${p.yTitle.y}) rotate(-90)" font-size="70" fill="${TEXT}" text-anchor="middle">NH<tspan font-size="47" dy="14">3</tspan><tspan dy="-14">${p.yTitle.tail}</tspan></text>`;
  // caption
  overlay += `<text x="${p.caption.x}" y="${p.caption.y}" font-size="78" fill="#000" text-anchor="middle">(<tspan font-weight="bold">${p.letter}</tspan>)</text>`;
}

const ov = document.createElementNS("http://www.w3.org/2000/svg", "svg");
ov.setAttribute("id", "overlay");
ov.setAttribute("width", 3040); ov.setAttribute("height", 3251);
ov.setAttribute("font-family", FONT);
ov.innerHTML = overlay;
page.appendChild(ov);
</script>
</body></html>
